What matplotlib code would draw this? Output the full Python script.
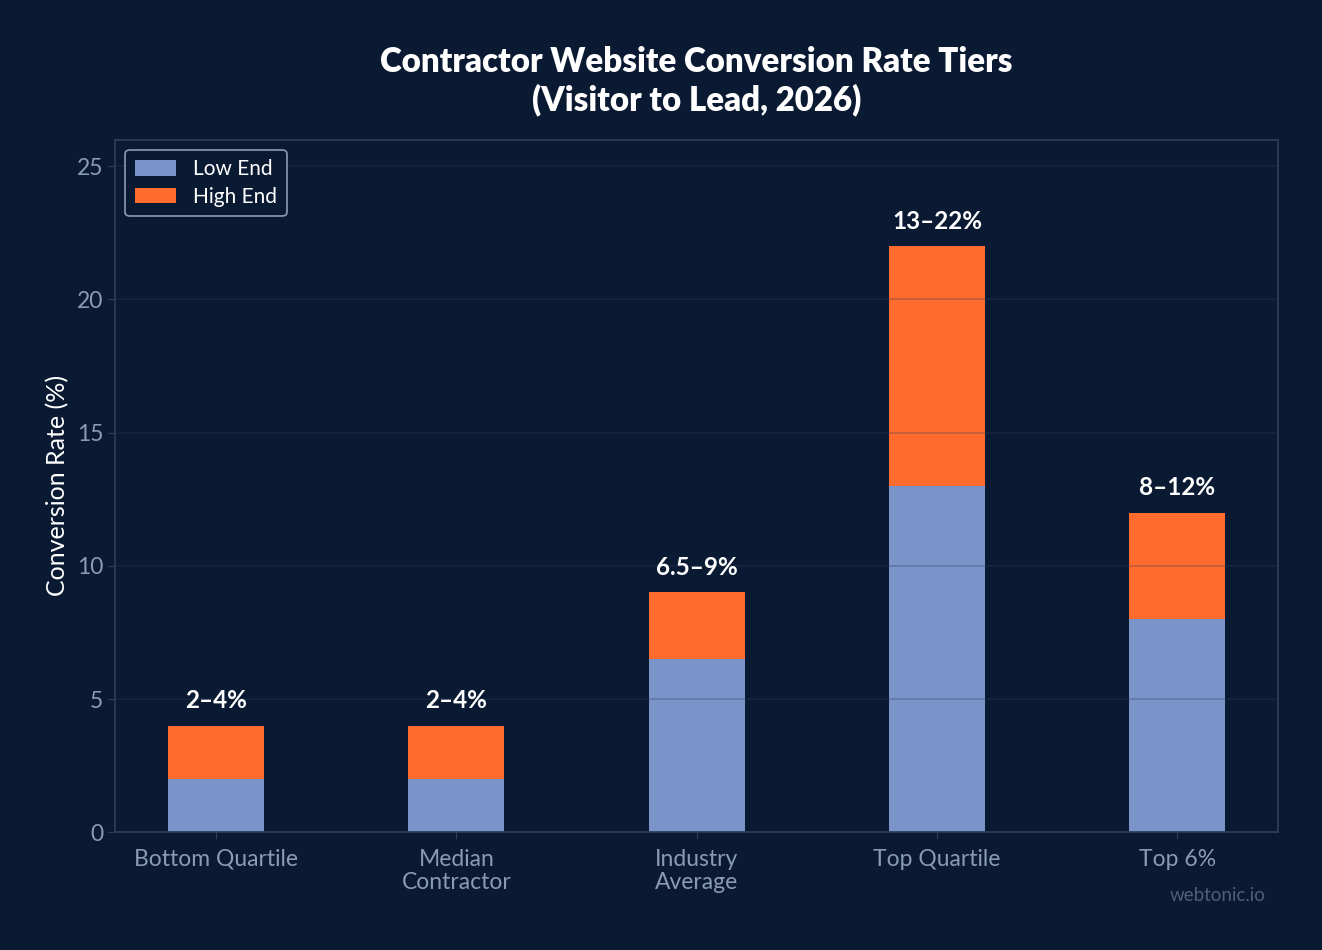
import matplotlib.pyplot as plt
import numpy as np

plt.rcParams['font.family'] = ['Lato', 'DejaVu Sans']

categorias = ['Bottom Quartile', 'Median\nContractor', 'Industry\nAverage', 'Top Quartile', 'Top 6%']
low_end = [2, 2, 6.5, 13, 8]
high_end = [4, 4, 9, 22, 12]
rotulos = ['2–4%', '2–4%', '6.5–9%', '13–22%', '8–12%']

bg = '#0b1a33'
azul = '#7a93c9'
laranja = '#ff6b2c'
cinza = '#8a9bb5'
spine = '#2e3f5c'

fig, ax = plt.subplots(figsize=(13.22, 9.5), dpi=100)
fig.patch.set_facecolor(bg)
ax.set_facecolor(bg)
fig.subplots_adjust(left=0.087, right=0.967, top=0.853, bottom=0.124)

x = np.arange(len(categorias))
largura = 0.4
diff = np.array(high_end) - np.array(low_end)

ax.bar(x, low_end, largura, color=azul, label='Low End', zorder=2)
ax.bar(x, diff, largura, bottom=low_end, color=laranja, label='High End', zorder=2)

for xi, h, txt in zip(x, high_end, rotulos):
    ax.text(xi, h + 0.5, txt, ha='center', va='bottom', color='white',
            fontsize=17.5, fontweight='bold', zorder=4)

ax.set_ylim(0, 26)
ax.set_yticks([0, 5, 10, 15, 20, 25])
ax.set_xticks(x)
ax.set_xticklabels(categorias, linespacing=1.15)
ax.tick_params(colors=spine, labelcolor=cinza, labelsize=16.5, length=5)
ax.tick_params(axis='x', pad=7)
ax.set_axisbelow(False)
ax.yaxis.grid(True, color='#2a3a55', alpha=0.3, linewidth=1.2, zorder=3)

for s in ax.spines.values():
    s.set_color(spine)
    s.set_linewidth(1.2)

ax.set_ylabel('Conversion Rate (%)', color='white', fontsize=18, labelpad=5)
ax.set_title('Contractor Website Conversion Rate Tiers\n(Visitor to Lead, 2026)',
             color='white', fontsize=23.8, fontweight='heavy', pad=21, linespacing=1.2)

leg = ax.legend(loc='upper left', fontsize=15, facecolor=bg, edgecolor=cinza,
                labelcolor='white', framealpha=1, borderpad=0.45, handlelength=2.0,
                handleheight=0.8, labelspacing=0.35)
leg.get_frame().set_linewidth(1.2)

fig.text(0.957, 0.057, 'webtonic.io', ha='right', va='center', color='#4f5f7a', fontsize=13.5)

plt.savefig('out.png', dpi=100, facecolor=bg)
